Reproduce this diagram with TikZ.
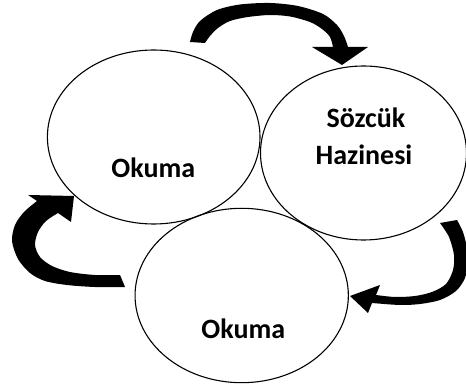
\documentclass[tikz,border=0pt]{standalone}
\usepackage{fontspec}
\setmainfont{Carlito}
\usetikzlibrary{shapes.geometric}
\tikzset{
  oval/.style={ellipse, draw=black, line width=1.1pt, inner sep=0pt},
  lbl/.style={font=\fontsize{28}{32}\selectfont\bfseries, anchor=base, inner sep=0pt},
  bigarrow/.style={fill=black, draw=none}
}
\begin{document}
\begin{tikzpicture}[x=1pt,y=-1pt]
\useasboundingbox (0,0) rectangle (466,387);
% ellipses
\node[oval, minimum width=212.6pt, minimum height=174pt] (e1) at (153.7,137) {};
\node[oval, minimum width=206pt, minimum height=174pt] (e2) at (363.5,153) {};
\node[oval, minimum width=213.3pt, minimum height=174.4pt] (e3) at (241.7,295.5) {};
% labels
\node[lbl] (t1) at (153.3,178) {Okuma};
\node[lbl] (t2a) at (366,128) {Sözcük};
\node[lbl] (t2b) at (364,165) {Hazinesi};
\node[lbl] (t3) at (243.3,338) {Okuma};
% top curved arrow
\fill[bigarrow] plot[smooth] coordinates {(190,42) (193,32) (200,21) (217,10) (240,4.5) (270,3) (298,6) (323,14) (337,25) (344,36) (348,47)}
  -- (368,47) -- (342,65) -- (312,47) -- (333,47)
  -- plot[smooth] coordinates {(333,47) (330,37) (322,29) (310,22) (290,16.5) (270,15) (248,17) (230,21) (218,28) (210,36) (205,43)}
  -- cycle;
% left curved arrow
\fill[bigarrow] plot[smooth] coordinates {(125,287) (95,287) (67,285) (45,281) (30,273) (18,259) (12,241) (15,225) (24,212) (37,201)}
  -- (28,195) -- (74,196) -- (71,222) -- (58,213)
  -- plot[smooth] coordinates {(58,213) (46,221) (38,232) (35,245) (40,257) (52,266) (70,272) (95,275) (120,275)}
  -- cycle;
% right curved arrow
\fill[bigarrow] plot[smooth] coordinates {(457,220) (463,232) (467,248) (468,262) (465,278) (456,291) (440,300) (420,304) (400,305) (372,303)}
  -- (368,313) -- (350,296) -- (380,285) -- (376,295)
  -- plot[smooth] coordinates {(376,295) (395,297) (415,296) (432,292) (446,284) (453,270) (454,255) (449,237) (440,223)}
  -- cycle;
\end{tikzpicture}
\end{document}
